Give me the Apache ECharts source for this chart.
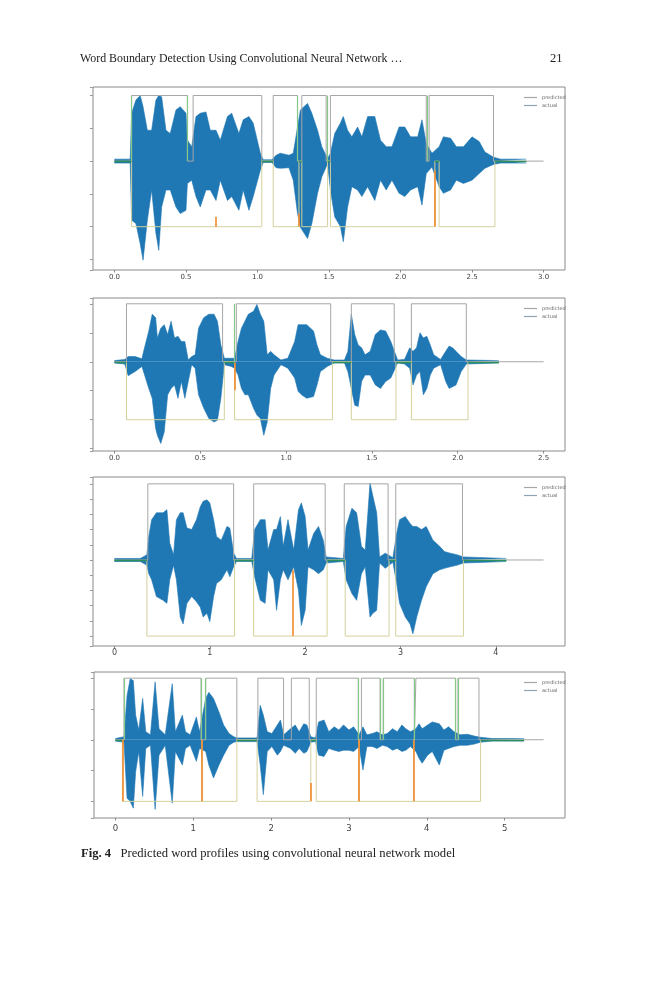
<!DOCTYPE html>
<html>
<head>
<meta charset="utf-8">
<script src="https://cdn.jsdelivr.net/npm/echarts@6/dist/echarts.min.js"></script>
<style>
html, body { margin: 0; padding: 0; background: #fff; }
#page { position: relative; width: 659px; height: 1000px; }
#main { position: absolute; left: 0; top: 0; width: 659px; height: 1000px; }
.txt { position: absolute; font-family: "Liberation Serif", "DejaVu Serif", serif; color: #222; white-space: nowrap; }
</style>
</head>
<body>
<div id="page">
    <div id="main"></div>
    <div class="txt" style="left:80px;top:51px;font-size:11.9px;">Word Boundary Detection Using Convolutional Neural Network …</div>
    <div class="txt" style="left:550px;top:51px;font-size:12.5px;">21</div>
    <div class="txt" style="left:81px;top:846px;font-size:12.6px;"><b>Fig. 4</b>&nbsp;&nbsp;&nbsp;Predicted word profiles using convolutional neural network model</div>
</div>
<script>
// panel 1 - waveform envelope (seconds, amplitude)
const wave1T = [0.00, 0.11, 0.12, 0.15, 0.18, 0.20, 0.23, 0.26, 0.29, 0.31, 0.33, 0.36, 0.39, 0.43, 0.46, 0.50, 0.51, 0.54, 0.57, 0.60, 0.64, 0.67, 0.71, 0.74, 0.79, 0.82, 0.87, 0.90, 0.94, 0.97, 1.02, 1.04, 1.10, 1.13, 1.16, 1.22, 1.25, 1.28, 1.30, 1.35, 1.38, 1.42, 1.45, 1.49, 1.51, 1.54, 1.58, 1.60, 1.63, 1.66, 1.70, 1.73, 1.77, 1.82, 1.86, 1.90, 1.94, 1.99, 2.03, 2.07, 2.12, 2.15, 2.18, 2.22, 2.27, 2.30, 2.35, 2.39, 2.44, 2.50, 2.55, 2.59, 2.65, 2.70, 2.88]
const wave1Hi = [0.03, 0.03, 0.73, 0.93, 1.00, 0.83, 0.47, 0.47, 0.93, 1.00, 0.98, 0.47, 0.42, 0.78, 0.83, 0.73, 0.32, 0.22, 0.68, 0.73, 0.75, 0.47, 0.47, 0.32, 0.68, 0.73, 0.42, 0.63, 0.68, 0.58, 0.12, 0.02, 0.02, 0.09, 0.12, 0.09, 0.12, 0.52, 0.78, 0.88, 0.73, 0.47, 0.22, 0.04, 0.12, 0.42, 0.58, 0.68, 0.47, 0.37, 0.52, 0.37, 0.68, 0.68, 0.32, 0.22, 0.22, 0.52, 0.52, 0.37, 0.37, 0.63, 0.27, 0.12, 0.22, 0.37, 0.35, 0.22, 0.22, 0.37, 0.30, 0.14, 0.06, 0.03, 0.03]
const wave1Lo = [-0.03, -0.03, -0.90, -0.95, -1.26, -1.51, -0.90, -0.44, -1.10, -1.36, -0.70, -0.44, -0.44, -0.70, -0.80, -0.75, -0.34, -0.29, -0.54, -0.70, -0.44, -0.44, -0.60, -0.29, -0.60, -0.54, -0.75, -0.44, -0.75, -0.54, -0.14, -0.02, -0.02, -0.10, -0.11, -0.10, -0.29, -0.80, -1.01, -1.18, -0.95, -0.49, -0.24, -0.04, -0.44, -0.85, -1.00, -1.23, -0.70, -0.39, -0.44, -0.54, -0.39, -0.60, -0.29, -0.44, -0.29, -0.49, -0.54, -0.44, -0.39, -0.67, -0.19, -0.09, -0.39, -0.49, -0.44, -0.29, -0.34, -0.29, -0.19, -0.11, -0.05, -0.03, -0.03]
const pred1Start = [0.12, 0.55, 1.11, 1.31, 1.51, 2.20]
const pred1End = [0.51, 1.03, 1.28, 1.48, 2.18, 2.65]
const act1Start = [0.12, 1.11, 1.31, 1.51, 2.27]
const act1End = [1.03, 1.29, 1.49, 2.24, 2.66]
const green1 = [0.12, 0.51, 1.28, 1.49, 2.19]
const orange1 = [[0.71, -1, -0.85], [1.29, -1, -0.8], [2.24, -1, -0.14]]
const ticks1 = { min: -0.15, max: 3.15, end: 3.0 }

// panel 2
const wave2T = [0.00, 0.06, 0.08, 0.12, 0.16, 0.17, 0.20, 0.22, 0.24, 0.25, 0.27, 0.29, 0.31, 0.33, 0.35, 0.37, 0.39, 0.41, 0.43, 0.45, 0.47, 0.49, 0.52, 0.55, 0.58, 0.60, 0.62, 0.64, 0.68, 0.70, 0.72, 0.74, 0.76, 0.78, 0.81, 0.83, 0.85, 0.87, 0.89, 0.91, 0.93, 0.97, 1.01, 1.05, 1.07, 1.09, 1.12, 1.16, 1.18, 1.20, 1.24, 1.28, 1.34, 1.36, 1.38, 1.40, 1.42, 1.44, 1.46, 1.49, 1.52, 1.55, 1.58, 1.61, 1.65, 1.69, 1.72, 1.74, 1.76, 1.78, 1.80, 1.82, 1.84, 1.86, 1.90, 1.93, 1.95, 1.97, 1.99, 2.02, 2.05, 2.24]
const wave2Hi = [0.02, 0.04, 0.09, 0.09, 0.05, 0.18, 0.53, 0.82, 0.76, 0.41, 0.58, 0.64, 0.47, 0.70, 0.41, 0.44, 0.35, 0.35, 0.03, 0.09, 0.12, 0.58, 0.76, 0.82, 0.82, 0.70, 0.29, 0.06, 0.06, 0.06, 0.35, 0.58, 0.70, 0.82, 0.87, 0.99, 0.82, 0.70, 0.12, 0.18, 0.12, 0.03, 0.06, 0.35, 0.64, 0.64, 0.64, 0.53, 0.29, 0.12, 0.06, 0.03, 0.03, 0.18, 0.82, 0.47, 0.29, 0.24, 0.12, 0.18, 0.47, 0.55, 0.53, 0.35, 0.03, 0.04, 0.24, 0.18, 0.24, 0.50, 0.41, 0.44, 0.29, 0.12, 0.04, 0.18, 0.27, 0.24, 0.18, 0.09, 0.03, 0.02]
const wave2Lo = [-0.02, -0.04, -0.24, -0.17, -0.08, -0.11, -0.46, -0.63, -1.15, -1.27, -1.41, -1.21, -0.57, -0.46, -0.40, -0.63, -0.34, -0.63, -0.34, -0.05, -0.11, -0.57, -0.80, -0.98, -1.04, -1.01, -0.63, -0.05, -0.08, -0.11, -0.23, -0.46, -0.57, -0.57, -0.80, -0.92, -0.98, -1.27, -1.04, -0.46, -0.23, -0.05, -0.11, -0.28, -0.51, -0.57, -0.63, -0.60, -0.40, -0.17, -0.08, -0.02, -0.02, -0.17, -0.46, -0.75, -0.77, -0.34, -0.23, -0.23, -0.40, -0.46, -0.34, -0.28, -0.02, -0.04, -0.11, -0.40, -0.23, -0.17, -0.57, -0.46, -0.23, -0.11, -0.05, -0.34, -0.46, -0.43, -0.40, -0.17, -0.04, -0.02]
const pred2Start = [0.07, 0.71, 1.38, 1.73]
const pred2End = [0.63, 1.26, 1.63, 2.05]
const act2Start = [0.07, 0.70, 1.38, 1.73]
const act2End = [0.64, 1.27, 1.64, 2.06]
const green2 = [0.70]
const orange2 = [[0.70, -0.02, -0.49]]
const ticks2 = { min: -0.125, max: 2.625, end: 2.5 }

// panel 3
const wave3T = [0.00, 0.27, 0.30, 0.34, 0.36, 0.39, 0.44, 0.51, 0.55, 0.58, 0.62, 0.65, 0.69, 0.72, 0.76, 0.81, 0.86, 0.90, 0.93, 0.97, 1.00, 1.04, 1.07, 1.12, 1.18, 1.21, 1.25, 1.28, 1.44, 1.47, 1.53, 1.58, 1.61, 1.67, 1.70, 1.74, 1.77, 1.82, 1.88, 1.93, 1.96, 2.00, 2.03, 2.09, 2.14, 2.19, 2.22, 2.40, 2.43, 2.49, 2.54, 2.59, 2.63, 2.68, 2.71, 2.75, 2.78, 2.84, 2.92, 2.96, 2.99, 3.05, 3.10, 3.13, 3.17, 3.22, 3.27, 3.34, 3.41, 3.46, 3.52, 3.59, 3.66, 4.11]
const wave3Hi = [0.02, 0.02, 0.04, 0.07, 0.31, 0.53, 0.62, 0.62, 0.66, 0.22, 0.07, 0.53, 0.62, 0.62, 0.42, 0.40, 0.53, 0.70, 0.77, 0.79, 0.75, 0.53, 0.31, 0.26, 0.44, 0.42, 0.09, 0.02, 0.02, 0.40, 0.53, 0.53, 0.13, 0.40, 0.40, 0.57, 0.18, 0.53, 0.13, 0.66, 0.75, 0.57, 0.13, 0.35, 0.44, 0.26, 0.04, 0.02, 0.44, 0.68, 0.62, 0.18, 0.13, 1.01, 0.84, 0.62, 0.04, 0.09, 0.03, 0.35, 0.53, 0.57, 0.48, 0.44, 0.44, 0.40, 0.44, 0.26, 0.18, 0.11, 0.09, 0.07, 0.04, 0.02]
const wave3Lo = [-0.02, -0.02, -0.04, -0.07, -0.18, -0.26, -0.48, -0.53, -0.57, -0.26, -0.07, -0.26, -0.75, -0.84, -0.57, -0.48, -0.55, -0.62, -0.75, -0.70, -0.81, -0.48, -0.31, -0.26, -0.13, -0.22, -0.09, -0.02, -0.02, -0.22, -0.53, -0.57, -0.13, -0.26, -0.66, -0.26, -0.13, -0.26, -0.09, -0.40, -0.86, -0.66, -0.09, -0.13, -0.18, -0.13, -0.04, -0.02, -0.26, -0.44, -0.53, -0.18, -0.09, -0.75, -0.70, -0.66, -0.04, -0.11, -0.03, -0.31, -0.57, -0.75, -0.84, -0.97, -0.75, -0.53, -0.35, -0.18, -0.13, -0.11, -0.09, -0.07, -0.04, -0.02]
const pred3Start = [0.35, 1.46, 2.41, 2.95]
const pred3End = [1.25, 2.21, 2.87, 3.65]
const act3Start = [0.34, 1.46, 2.42, 2.95]
const act3End = [1.26, 2.23, 2.88, 3.66]
const green3 = []
const orange3 = [[1.87, -1, -0.13]]
const ticks3 = { min: -0.225, max: 4.725, end: 4.5 }

// panel 4
const wave4T = [0.00, 0.11, 0.15, 0.19, 0.23, 0.26, 0.30, 0.35, 0.39, 0.45, 0.51, 0.56, 0.64, 0.73, 0.77, 0.86, 0.90, 0.96, 1.04, 1.08, 1.16, 1.20, 1.26, 1.33, 1.39, 1.46, 1.52, 1.56, 1.82, 1.86, 1.90, 1.95, 2.01, 2.08, 2.12, 2.16, 2.25, 2.31, 2.36, 2.42, 2.46, 2.51, 2.57, 2.61, 2.68, 2.74, 2.81, 2.87, 2.93, 3.00, 3.06, 3.13, 3.18, 3.23, 3.30, 3.36, 3.43, 3.49, 3.56, 3.62, 3.68, 3.73, 3.79, 3.86, 3.90, 3.94, 4.01, 4.07, 4.16, 4.22, 4.28, 4.35, 4.43, 4.52, 4.61, 4.69, 4.84, 5.25]
const wave4Hi = [0.02, 0.05, 0.72, 0.99, 0.96, 0.40, 0.16, 0.67, 0.13, 0.08, 0.94, 0.18, 0.08, 0.91, 0.13, 0.40, 0.13, 0.08, 0.37, 0.13, 0.67, 0.77, 0.67, 0.45, 0.24, 0.10, 0.05, 0.03, 0.03, 0.56, 0.40, 0.13, 0.10, 0.24, 0.32, 0.08, 0.18, 0.24, 0.13, 0.26, 0.24, 0.05, 0.03, 0.29, 0.32, 0.13, 0.21, 0.16, 0.24, 0.16, 0.21, 0.08, 0.21, 0.08, 0.10, 0.13, 0.08, 0.10, 0.18, 0.13, 0.24, 0.18, 0.13, 0.18, 0.26, 0.18, 0.24, 0.29, 0.26, 0.16, 0.21, 0.13, 0.08, 0.09, 0.06, 0.04, 0.02, 0.02]
const wave4Lo = [-0.02, -0.04, -0.95, -1.00, -1.11, -0.52, -0.19, -0.92, -0.14, -0.09, -1.13, -0.25, -0.09, -1.03, -0.19, -0.41, -0.14, -0.09, -0.35, -0.14, -0.19, -0.41, -0.62, -0.41, -0.25, -0.09, -0.04, -0.03, -0.03, -0.41, -0.89, -0.19, -0.11, -0.25, -0.19, -0.09, -0.14, -0.22, -0.14, -0.22, -0.19, -0.04, -0.03, -0.25, -0.27, -0.14, -0.17, -0.19, -0.17, -0.17, -0.19, -0.11, -0.49, -0.11, -0.11, -0.14, -0.09, -0.11, -0.17, -0.14, -0.19, -0.17, -0.11, -0.19, -0.30, -0.38, -0.25, -0.19, -0.41, -0.17, -0.14, -0.11, -0.09, -0.09, -0.07, -0.04, -0.02, -0.02]
const pred4Start = [0.11, 1.16, 1.83, 2.26, 2.58, 3.16, 3.44, 3.86, 4.40]
const pred4End = [1.10, 1.56, 2.16, 2.49, 3.12, 3.40, 3.84, 4.37, 4.67]
const act4Start = [0.09, 1.11, 1.82, 2.58, 3.13, 3.83]
const act4End = [1.11, 1.56, 2.51, 3.13, 3.83, 4.69]
const green4 = [0.11, 1.10, 1.16, 3.12, 3.40, 3.44, 3.84, 4.37, 4.40]
const orange4 = [[0.09, -1, 0], [1.11, -1, 0], [2.51, -1, -0.7], [3.13, -1, 0], [3.83, -1, 0]]
const ticks4 = { min: -0.275, max: 5.775, end: 5.5 }

const legendNames = ['predicted', 'actual']

function zip(a, b) {
    return a.map(function (v, i) { return [v, b[i]] })
}
// rectangular word profile: 0 outside a word, level inside
function boxPath(starts, ends, level) {
    let pts = []
    for (let i = 0; i < starts.length; i++) {
        pts.push([starts[i], 0], [starts[i], level], [ends[i], level], [ends[i], 0])
    }
    return pts
}
function silence(starts, ends, stop) {
    let segs = []
    let from = 0
    for (let i = 0; i < starts.length; i++) {
        if (starts[i] > from) segs.push({ coords: [[from, 0], [starts[i], 0]] })
        from = ends[i]
    }
    if (stop > from) segs.push({ coords: [[from, 0], [stop, 0]] })
    return segs
}

const panels = [
    { t: wave1T, hi: wave1Hi, lo: wave1Lo, ps: pred1Start, pe: pred1End, as: act1Start, ae: act1End, green: green1, orange: orange1, x: ticks1,
      y: [-1.66, 1.13], ySplit: 6, xSplit: 7, dec: 1, box: { left: 93, top: 87, width: 472, height: 183 }, lab: 4, font: 7 },
    { t: wave2T, hi: wave2Hi, lo: wave2Lo, ps: pred2Start, pe: pred2End, as: act2Start, ae: act2End, green: green2, orange: orange2, x: ticks2,
      y: [-1.54, 1.10], ySplit: 6, xSplit: 5, dec: 1, box: { left: 93, top: 298, width: 472, height: 153 }, lab: 4, font: 7 },
    { t: wave3T, hi: wave3Hi, lo: wave3Lo, ps: pred3Start, pe: pred3End, as: act3Start, ae: act3End, green: green3, orange: orange3, x: ticks3,
      y: [-1.13, 1.09], ySplit: 10, xSplit: 5, dec: 0, box: { left: 93, top: 477, width: 472, height: 169 }, lab: 3, font: 8 },
    { t: wave4T, hi: wave4Hi, lo: wave4Lo, ps: pred4Start, pe: pred4End, as: act4Start, ae: act4End, green: green4, orange: orange4, x: ticks4,
      y: [-1.27, 1.10], ySplit: 5, xSplit: 6, dec: 0, box: { left: 94, top: 672, width: 471, height: 146 }, lab: 6, font: 8.5 }
]

let grids = [], xAxes = [], yAxes = [], series = [], legends = []

panels.forEach(function (p, i) {
    grids.push({
        left: p.box.left, top: p.box.top, width: p.box.width, height: p.box.height,
        show: true, borderColor: '#8a8a8a', borderWidth: 1, backgroundColor: '#fff'
    })
    xAxes.push({
        type: 'value', gridIndex: i, position: 'bottom', min: p.x.min, max: p.x.max, splitNumber: p.xSplit,
        axisLine: { show: false, onZero: false },
        axisTick: { show: true, length: 2.5, lineStyle: { color: '#888' } },
        axisLabel: {
            showMinLabel: false, showMaxLabel: false, margin: p.lab,
            fontSize: p.font, color: '#444', fontFamily: 'DejaVu Sans',
            formatter: function (v) { return v.toFixed(p.dec) }
        },
        splitLine: { show: false }
    })
    yAxes.push({
        type: 'value', gridIndex: i, position: 'left', min: p.y[0], max: p.y[1], splitNumber: p.ySplit,
        axisLine: { show: false, onZero: false },
        axisTick: { show: true, length: 3, lineStyle: { color: '#999' } },
        axisLabel: { show: false },
        splitLine: { show: false }
    })
    legends.push({
        data: legendNames, left: 519, top: p.box.top + 3, orient: 'vertical',
        icon: 'rect', itemWidth: 13, itemHeight: 1.2, itemGap: 3, selectedMode: false,
        textStyle: { fontSize: 5, color: '#666', fontFamily: 'DejaVu Sans' }
    })
    let waveEnd = p.t[p.t.length - 1]
    // waveform envelope, filled to zero
    series.push({
        type: 'line', xAxisIndex: i, yAxisIndex: i, data: zip(p.t, p.hi), symbol: 'none', silent: true, z: 1,
        lineStyle: { color: '#1f77b4', width: 0.6 }, areaStyle: { color: '#1f77b4', opacity: 1 }
    })
    series.push({
        type: 'line', xAxisIndex: i, yAxisIndex: i, data: zip(p.t, p.lo), symbol: 'none', silent: true, z: 1,
        lineStyle: { color: '#1f77b4', width: 0.6 }, areaStyle: { color: '#1f77b4', opacity: 1 }
    })
    series.push({
        name: 'predicted', type: 'line', xAxisIndex: i, yAxisIndex: i, symbol: 'none', silent: true, z: 3,
        data: [[0, 0]].concat(boxPath(p.ps, p.pe, 1), [[p.x.end, 0]]),
        lineStyle: { color: '#a6a6a6', width: 1 }, itemStyle: { color: '#a6a6a6' }
    })
    series.push({
        name: 'actual', type: 'line', xAxisIndex: i, yAxisIndex: i, symbol: 'none', silent: true, z: 3,
        data: boxPath(p.as, p.ae, -1),
        lineStyle: { color: '#d4d19c', width: 1 }, itemStyle: { color: '#8fa3b3' }
    })
    series.push({
        type: 'lines', coordinateSystem: 'cartesian2d', xAxisIndex: i, yAxisIndex: i, silent: true, z: 4,
        data: silence(p.as, p.ae, waveEnd),
        lineStyle: { color: '#2f8f5b', width: 1.3, opacity: 1 }
    })
    series.push({
        type: 'lines', coordinateSystem: 'cartesian2d', xAxisIndex: i, yAxisIndex: i, silent: true, z: 4,
        data: p.green.map(function (t) { return { coords: [[t, 0], [t, 1]] } }),
        lineStyle: { color: '#86c986', width: 1.2, opacity: 1 }
    })
    series.push({
        type: 'lines', coordinateSystem: 'cartesian2d', xAxisIndex: i, yAxisIndex: i, silent: true, z: 5,
        data: p.orange.map(function (o) { return { coords: [[o[0], o[1]], [o[0], o[2]]] } }),
        lineStyle: { color: '#f08a2c', width: 1.6, opacity: 1 }
    })
})

var myChart = echarts.init(document.getElementById('main'))
var option = {
    animation: false,
    backgroundColor: '#fff',
    grid: grids,
    xAxis: xAxes,
    yAxis: yAxes,
    legend: legends,
    series: series
}
option && myChart.setOption(option)
</script>
</body>
</html>
